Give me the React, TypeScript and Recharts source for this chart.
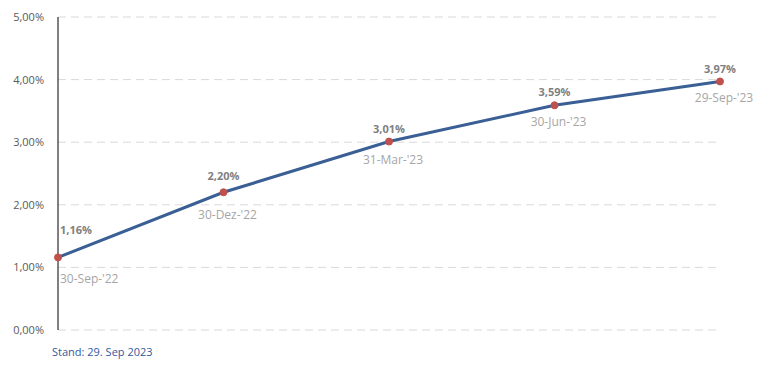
import { LineChart, CartesianGrid, XAxis, YAxis, Line, LabelList } from 'recharts'

const dates = ["30-Sep-'22", "30-Dez-'22", "31-Mar-'23", "30-Jun-'23", "29-Sep-'23"]
const rates = [1.16, 2.2, 3.01, 3.59, 3.97]
const yTicks = [0, 1, 2, 3, 4, 5]

const chartData = dates.map((d, i) => ({ date: d, rate: rates[i] }))

// label nudges, per point (value above, date below)
const valueDy = [-28, -17, -13, -14, -13]
const dateDy = [21, 22, 18, 16, 16]

const fmt = (v: number) => v.toFixed(2).replace('.', ',') + '%'
const font = "'Open Sans', sans-serif"

const ValueLabel = (props: any) => {
  const { x, y, value, index } = props
  const first = index === 0
  return (
    <text
      x={first ? x + 2 : x}
      y={y + valueDy[index]}
      textAnchor={first ? 'start' : 'middle'}
      dominantBaseline='central'
      fontSize={11}
      fontWeight='bold'
      fill='#7f7f7f'
      fontFamily={font}
    >
      {fmt(value)}
    </text>
  )
}

const DateLabel = (props: any) => {
  const { x, y, index } = props
  const first = index === 0
  return (
    <text
      x={first ? x + 2 : x + 4}
      y={y + dateDy[index]}
      textAnchor={first ? 'start' : 'middle'}
      dominantBaseline='central'
      fontSize={12}
      fill='#a6a6a6'
      fontFamily={font}
    >
      {dates[index]}
    </text>
  )
}

export default function App() {
  return (
    <div style={{ position: 'absolute', left: 0, top: 0, width: 779, height: 368, background: '#fff' }}>
      <LineChart
        width={779}
        height={368}
        data={chartData}
        margin={{ top: 17, right: 59, bottom: 38, left: 0 }}
      >
        <CartesianGrid vertical={false} stroke='#d9d9d9' strokeDasharray='8 5' />
        <XAxis dataKey='date' hide padding={{ left: 0, right: 0 }} />
        <YAxis
          width={58}
          domain={[0, 5]}
          ticks={yTicks}
          tickFormatter={fmt}
          tickLine={false}
          tickSize={0}
          tickMargin={14}
          axisLine={{ stroke: '#000' }}
          tick={{ fontSize: 11, fill: '#595959', fontFamily: font }}
        />
        <Line
          type='linear'
          dataKey='rate'
          stroke='#3a5f95'
          strokeWidth={3}
          dot={{ r: 3.5, fill: '#c0504d', stroke: '#c0504d', strokeWidth: 1 }}
          activeDot={false}
          isAnimationActive={false}
        >
          <LabelList dataKey='rate' content={ValueLabel} />
          <LabelList dataKey='date' content={DateLabel} />
        </Line>
      </LineChart>
      <div
        style={{
          position: 'absolute',
          left: 52,
          top: 344,
          fontSize: 11,
          color: '#2f5aa0',
          fontFamily: font
        }}
      >
        Stand: 29. Sep 2023
      </div>
    </div>
  )
}
